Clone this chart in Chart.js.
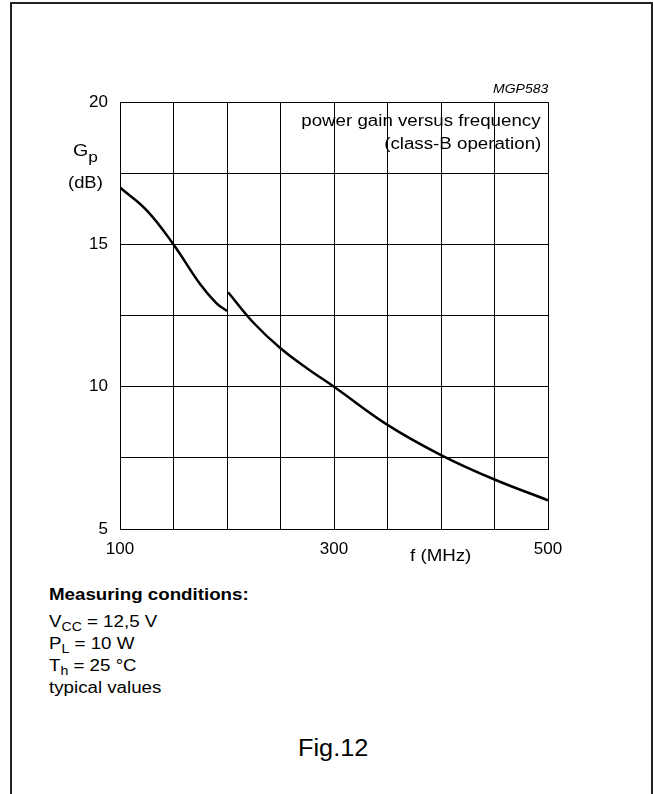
<!DOCTYPE html>
<html>
<head>
<meta charset="utf-8">
<script src="https://cdn.jsdelivr.net/npm/chart.js@4"></script>
<style>
  body { margin: 0; background: #fff; font-family: "Liberation Sans", Arial, sans-serif; color: #000; }
  #page { position: relative; width: 653px; height: 794px; overflow: hidden; }
  #frame { position: absolute; left: 10px; top: 2px; width: 639px; height: 820px;
           border: 2px solid #222; border-bottom: none; }
  #wrap { position: absolute; left: 0; top: 80px; }
  .t { position: absolute; white-space: nowrap; font-size: 16px; line-height: 18px; transform-origin: 0 50%; }
  .r { transform-origin: 100% 50%; }
  sub { font-size: 12px; vertical-align: -4px; line-height: 0; }
</style>
</head>
<body>
<div id="page">
  <div id="frame"></div>
  <div id="wrap"><canvas id="myChart" width="653" height="500"></canvas></div>

  <div class="t r" style="right:105px; top:80px; font-size:12px; font-style:italic; transform:scaleX(1.17);">MGP583</div>
  <div class="t r" style="right:112px; top:112px; transform:scaleX(1.17); text-align:right;">power gain versus frequency</div>
  <div class="t r" style="right:112px; top:135px; transform:scaleX(1.17); text-align:right;">(class-B operation)</div>
  <div class="t" style="left:73px; top:142px; font-size:17px; transform:scaleX(1.15);">G<sub style="font-size:15px;vertical-align:-6px;">p</sub></div>
  <div class="t" style="left:68px; top:174px; transform:scaleX(1.15);">(dB)</div>
  <div class="t" style="left:410px; top:547px; transform:scaleX(1.17);">f (MHz)</div>

  <div class="t" style="left:49px; top:586px; font-weight:bold; transform:scaleX(1.17);">Measuring conditions:</div>
  <div class="t" style="left:49px; top:613px; transform:scaleX(1.17);">V<sub>CC</sub> = 12,5 V</div>
  <div class="t" style="left:49px; top:635px; transform:scaleX(1.17);">P<sub>L</sub> = 10 W</div>
  <div class="t" style="left:49px; top:657px; transform:scaleX(1.17);">T<sub>h</sub> = 25 °C</div>
  <div class="t" style="left:49px; top:679px; transform:scaleX(1.17);">typical values</div>

  <div class="t" style="left:298px; top:735px; font-size:23px; line-height:26px; transform:scaleX(1.1);">Fig.12</div>
</div>

<script>
// power gain vs frequency, two branches (jump at 200 MHz)
const freqLow = [100, 125, 150, 175, 190, 200];
const gainLow = [17.0, 16.2, 15.0, 13.6, 12.94, 12.66];

const freqHigh = [201, 225, 250, 275, 300, 350, 400, 450, 500];
const gainHigh = [13.32, 12.24, 11.35, 10.64, 10.0, 8.66, 7.6, 6.74, 6.01];

const xLabels = [100, 300, 500];
const yLabels = [5, 10, 15, 20];

const toPoints = (xs, ys) => xs.map((x, i) => ({ x: x, y: ys[i] }));

const ctx = document.getElementById("myChart");

const lineStyle = {
    showLine: true,
    borderColor: "#000",
    backgroundColor: "#000",
    borderWidth: 2.5,
    pointRadius: 0,
    tension: 0.4,
    fill: false
};

new Chart(ctx, {
    type: "scatter",
    data: {
        datasets: [
            { ...lineStyle, label: "low", data: toPoints(freqLow, gainLow) },
            { ...lineStyle, label: "high", data: toPoints(freqHigh, gainHigh) },
        ],
    },
    options: {
        responsive: false,
        animation: false,
        devicePixelRatio: 1,
        layout: { padding: { left: 60, top: 22, right: 105, bottom: 11 } },
        plugins: {
            legend: { display: false },
            tooltip: { enabled: false },
        },
        scales: {
            x: {
                type: "linear",
                min: 100,
                max: 500,
                afterFit: (s) => { s.height = 40; },
                grid: { color: "#000", lineWidth: 1, drawTicks: false },
                border: { color: "#000", width: 1 },
                ticks: {
                    stepSize: 50,
                    padding: 10,
                    maxRotation: 0,
                    autoSkip: false,
                    color: "#000",
                    font: { size: 17, family: "Liberation Sans, Arial" },
                    callback: (v) => (xLabels.includes(v) ? String(v) : ""),
                },
            },
            y: {
                min: 5,
                max: 20,
                afterFit: (s) => { s.width = 60; },
                grid: { color: "#000", lineWidth: 1, drawTicks: false },
                border: { color: "#000", width: 1 },
                ticks: {
                    stepSize: 2.5,
                    padding: 12,
                    autoSkip: false,
                    color: "#000",
                    font: { size: 17, family: "Liberation Sans, Arial" },
                    callback: (v) => (yLabels.includes(v) ? String(v) : ""),
                },
            },
        },
    },
});
</script>
</body>
</html>
